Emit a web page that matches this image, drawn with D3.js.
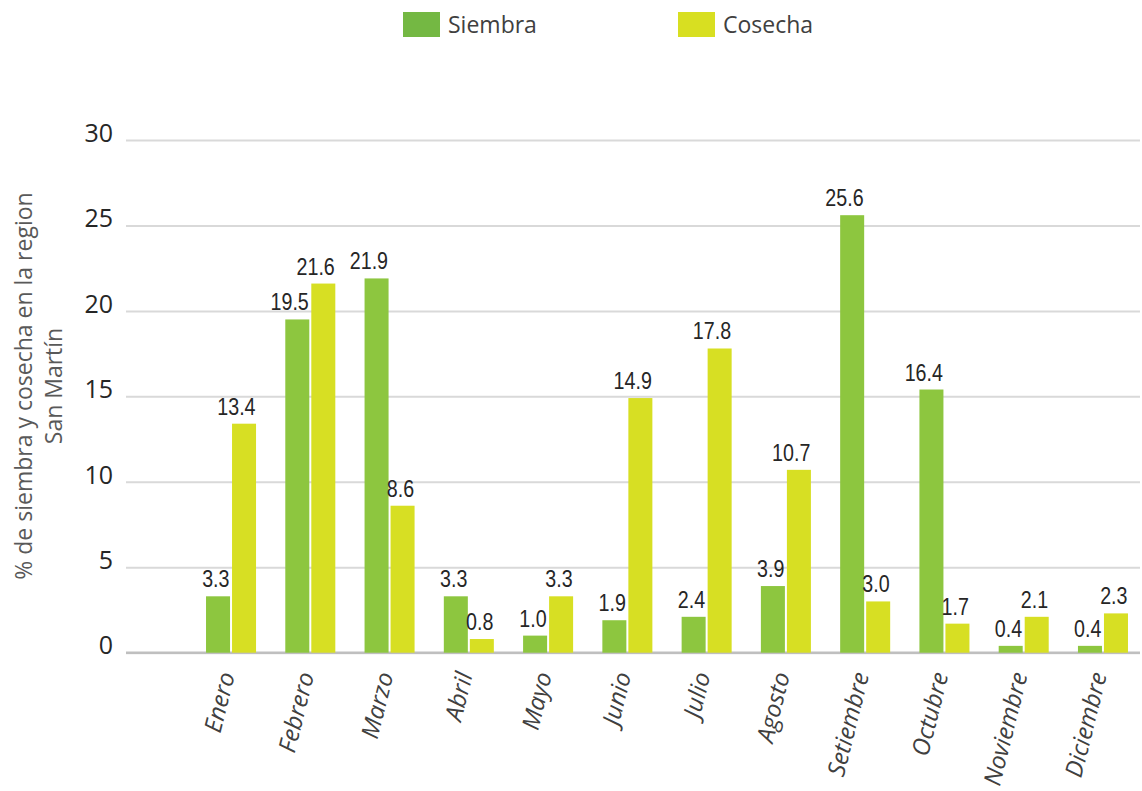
<!DOCTYPE html>
<html>
<head>
<meta charset="utf-8">
<script src="https://cdn.jsdelivr.net/npm/d3@7"></script>
<style>
  body { margin: 0; background: #fff; }
  .tick text { font-family: "Open Sans", sans-serif; }
  .axis-y .domain { display: none; }
  .axis-y .tick line { stroke: #d9d9d9; stroke-width: 2; }
  .bar-label { font-family: "Liberation Sans", Arial, sans-serif; font-size: 24px; fill: #262626; }
  .month-label { font-family: "Open Sans", sans-serif; font-style: italic; font-size: 24px; fill: #404040; }
  .legend-text { font-family: "Open Sans", sans-serif; font-size: 23px; fill: #404040; }
  .axis-title { font-family: "Open Sans", sans-serif; font-size: 23px; fill: #595959; }
</style>
</head>
<body>
<div id="chart"></div>
<script>
// data
const months = ["Enero", "Febrero", "Marzo", "Abril", "Mayo", "Junio", "Julio", "Agosto", "Setiembre", "Octubre", "Noviembre", "Diciembre"];
const seriesNames = ["Siembra", "Cosecha"];
// bar heights as drawn
const siembra = [3.3, 19.5, 21.9, 3.3, 1.0, 1.9, 2.1, 3.9, 25.6, 15.4, 0.4, 0.4];
const cosecha = [13.4, 21.6, 8.6, 0.8, 3.3, 14.9, 17.8, 10.7, 3.0, 1.7, 2.1, 2.3];
// labels as printed (Julio and Octubre labels differ from drawn bars)
const siembraLabels = ["3.3", "19.5", "21.9", "3.3", "1.0", "1.9", "2.4", "3.9", "25.6", "16.4", "0.4", "0.4"];
const cosechaLabels = ["13.4", "21.6", "8.6", "0.8", "3.3", "14.9", "17.8", "10.7", "3.0", "1.7", "2.1", "2.3"];
const yTicks = [0, 5, 10, 15, 20, 25, 30];

const barColors = ["#8dc63f", "#d7df23"];
const legendColors = ["#74b843", "#d8df21"];

const svgWidth = 1142, svgHeight = 791;
const margin = { top: 140, left: 126 };
const width = 1014;
const height = 512.7;

const svg = d3.select("#chart")
  .append("svg")
  .attr("width", svgWidth)
  .attr("height", svgHeight);

const g = svg.append("g")
  .attr("transform", `translate(${margin.left}, ${margin.top})`);

const xScale = d3.scaleBand()
  .domain(months)
  .range([65.4, 1016.6])
  .paddingInner(0.369)
  .paddingOuter(0.1845);

const xSub = d3.scaleBand()
  .domain(seriesNames)
  .range([0, xScale.bandwidth()])
  .paddingInner(2 / 26);

const yScale = d3.scaleLinear()
  .domain([0, 30])
  .range([height, 0]);

// axis-y with gridlines
const yAxis = g.append("g")
  .attr("class", "axis-y")
  .call(d3.axisLeft(yScale).tickValues(yTicks).tickSize(-width).tickPadding(13));

yAxis.selectAll(".tick text")
  .attr("dy", "0.05em")
  .style("font-size", "25px")
  .style("fill", "#262626");

// baseline
g.append("line")
  .attr("x1", 0)
  .attr("x2", width)
  .attr("y1", yScale(0))
  .attr("y2", yScale(0))
  .attr("stroke", "#bfbfbf")
  .attr("stroke-width", 2.5);

// bars
const rows = months.map((m, i) => ({
  month: m,
  values: [
    { key: "Siembra", value: siembra[i], label: siembraLabels[i] },
    { key: "Cosecha", value: cosecha[i], label: cosechaLabels[i] },
  ],
}));

const group = g.selectAll(".month")
  .data(rows)
  .enter()
  .append("g")
  .attr("class", "month")
  .attr("transform", (d) => `translate(${xScale(d.month)}, 0)`);

group.selectAll("rect")
  .data((d) => d.values)
  .enter()
  .append("rect")
  .attr("x", (d) => xSub(d.key))
  .attr("y", (d) => yScale(d.value))
  .attr("width", xSub.bandwidth())
  .attr("height", (d) => yScale(0) - yScale(d.value))
  .attr("fill", (d, i) => barColors[i]);

// condensed value labels (narrow font squeezed horizontally)
group.selectAll(".bar-label")
  .data((d) => d.values)
  .enter()
  .append("text")
  .attr("class", "bar-label")
  .attr("transform", (d) => `translate(${xSub(d.key) + xSub.bandwidth() - 0.5}, ${yScale(d.value) - 9}) scale(0.82, 1)`)
  .attr("text-anchor", "end")
  .text((d) => d.label);

// month labels (rotated)
g.selectAll(".month-label")
  .data(months)
  .enter()
  .append("text")
  .attr("class", "month-label")
  .attr("text-anchor", "end")
  .attr("transform", (d) => `translate(${xScale(d) + xScale.bandwidth() / 2 + 4}, ${height + 22}) rotate(-76)`)
  .text((d) => d);

// axis-y title
const title = svg.append("text")
  .attr("class", "axis-title")
  .attr("transform", `translate(0, 386) rotate(-90)`)
  .attr("text-anchor", "middle");
title.append("tspan").attr("x", 0).attr("y", 32).text("% de siembra y cosecha en la region");
title.append("tspan").attr("x", 0).attr("y", 62).text("San Martín");

// legend
const legendX = [403, 678];
const legend = svg.selectAll(".legend")
  .data(seriesNames)
  .enter()
  .append("g")
  .attr("class", "legend")
  .attr("transform", (d, i) => `translate(${legendX[i]}, 12)`);

legend.append("rect")
  .attr("width", 37)
  .attr("height", 25)
  .attr("fill", (d, i) => legendColors[i]);

legend.append("text")
  .attr("class", "legend-text")
  .attr("x", 45)
  .attr("y", 21)
  .text((d) => d);
</script>
</body>
</html>
